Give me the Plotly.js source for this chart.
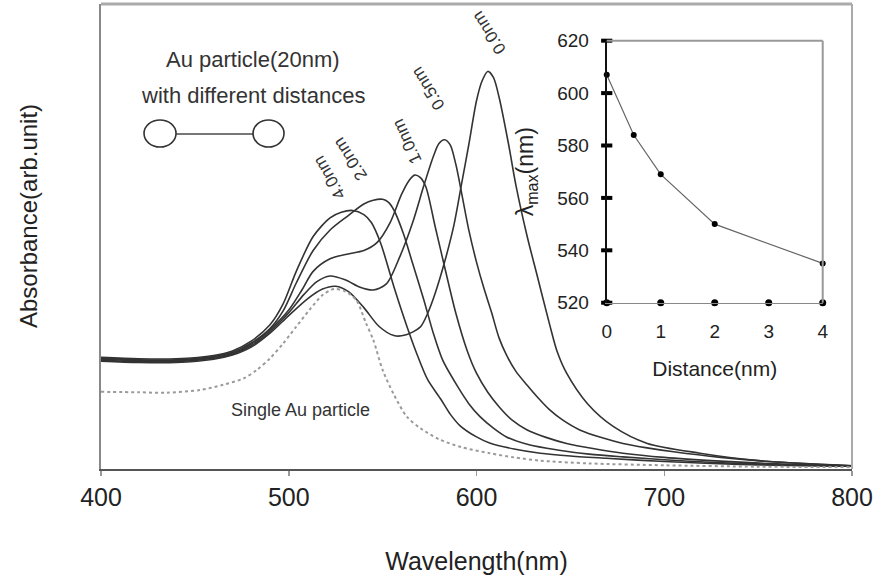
<!DOCTYPE html>
<html>
<head>
<meta charset="utf-8">
<script src="https://cdn.plot.ly/plotly-3.0.1.min.js"></script>
<style>
  html, body { margin: 0; padding: 0; background: #fff; }
  #chart { width: 877px; height: 577px; }
</style>
</head>
<body>
<div id="chart"></div>
<script>
// ---- Main spectra (wavelength in nm, absorbance in arb. units) ----
const wl00 = [400,420,440,460,470,480,490,500,510,518,525,532,540,548,556,562,570,574,578,583,588,592,596,600,603,606,609,612,617,621,627,632,639,643,648,659,673,691,719,750,800];
const ab00 = [0.232,0.229,0.229,0.236,0.245,0.262,0.292,0.330,0.366,0.387,0.393,0.381,0.347,0.307,0.287,0.288,0.305,0.335,0.378,0.445,0.525,0.612,0.700,0.792,0.835,0.855,0.842,0.800,0.700,0.610,0.500,0.421,0.310,0.252,0.206,0.141,0.091,0.055,0.034,0.018,0.007];

const wl05 = [400,420,440,460,470,480,490,500,508,515,522,530,538,545,552,559,566,572,577,580,583,586,589,592,596,600,604,608,612,616,621,627,633,639,646,655,667,678,690,705,730,760,800];
const ab05 = [0.234,0.231,0.231,0.238,0.247,0.265,0.296,0.336,0.375,0.403,0.415,0.407,0.391,0.385,0.398,0.455,0.530,0.610,0.672,0.700,0.708,0.697,0.655,0.595,0.512,0.445,0.388,0.337,0.282,0.245,0.210,0.180,0.152,0.127,0.105,0.084,0.067,0.055,0.046,0.037,0.025,0.015,0.007];

const wl10 = [400,420,440,460,470,480,490,500,507,513,522,531,540,547,554,560,564,567,570,573,578,583,589,595,600,606,612,619,627,637,648,662,678,700,730,760,800];
const ab10 = [0.236,0.233,0.233,0.240,0.249,0.268,0.300,0.342,0.385,0.425,0.452,0.462,0.470,0.487,0.530,0.590,0.620,0.632,0.627,0.607,0.521,0.435,0.335,0.255,0.206,0.165,0.134,0.105,0.084,0.068,0.055,0.044,0.034,0.025,0.017,0.011,0.006];

const wl20 = [400,420,440,460,470,480,490,497,504,513,522,531,540,545,550,553,556,561,566,572,577,582,590,596,602,609,616,628,643,660,678,700,740,800];
const ab20 = [0.238,0.235,0.235,0.242,0.251,0.271,0.302,0.340,0.400,0.470,0.514,0.543,0.570,0.578,0.580,0.574,0.557,0.507,0.442,0.363,0.292,0.234,0.177,0.140,0.112,0.088,0.069,0.052,0.041,0.032,0.026,0.020,0.012,0.006];

const wl40 = [400,420,440,460,470,480,490,497,504,513,522,528,534,540,544,549,556,563,568,574,581,586,591,600,607,620,634,650,669,700,740,800];
const ab40 = [0.240,0.237,0.237,0.244,0.254,0.275,0.310,0.355,0.425,0.500,0.540,0.552,0.556,0.547,0.530,0.485,0.392,0.306,0.250,0.192,0.150,0.118,0.094,0.069,0.056,0.043,0.034,0.028,0.023,0.016,0.010,0.006];

const wlSingle = [400,420,435,453,465,476,483,490,497,504,511,518,524,530,536,541,545,550,556,563,570,580,592,607,620,634,660,700,750,800];
const abSingle = [0.166,0.165,0.164,0.170,0.181,0.195,0.213,0.238,0.270,0.306,0.342,0.374,0.387,0.382,0.363,0.315,0.278,0.213,0.160,0.112,0.088,0.064,0.047,0.034,0.025,0.018,0.012,0.008,0.005,0.004];

// ---- Inset: peak wavelength vs. distance ----
const distance = [0, 0.5, 1, 2, 4];
const lambdaMax = [607, 584, 569, 550, 535];

// ---- Tick labels ----
const mainXTicks = [400, 500, 600, 700, 800];
const insetXTicks = [0, 1, 2, 3, 4];
const insetYTicks = [520, 540, 560, 580, 600, 620];

const FONT = 'Liberation Sans, Arial, Helvetica, sans-serif';
const solid = {color: '#333333', width: 1.6, shape: 'spline', smoothing: 0.8};

const spectra = [
  [wl00, ab00, '0.0nm'], [wl05, ab05, '0.5nm'], [wl10, ab10, '1.0nm'],
  [wl20, ab20, '2.0nm'], [wl40, ab40, '4.0nm']
];

const traces = spectra.map(([x, y, name]) => ({
  type: 'scatter', mode: 'lines', x: x, y: y, name: name,
  line: solid, xaxis: 'x', yaxis: 'y'
}));

traces.push({
  type: 'scatter', mode: 'lines', x: wlSingle, y: abSingle, name: 'Single Au particle',
  line: {color: '#9a9a9a', width: 2, dash: 'dot', shape: 'spline', smoothing: 0.8},
  xaxis: 'x', yaxis: 'y'
});

// inset tick dots, built from tick arrays
traces.push({
  type: 'scatter', mode: 'markers', x: insetXTicks, y: insetXTicks.map(() => insetYTicks[0]),
  marker: {color: '#000', size: 7}, xaxis: 'x2', yaxis: 'y2', cliponaxis: false, hoverinfo: 'skip'
});
traces.push({
  type: 'scatter', mode: 'markers', x: insetYTicks.map(() => insetXTicks[0]), y: insetYTicks,
  marker: {symbol: 'line-ew', size: 8, line: {color: '#000', width: 4}}, xaxis: 'x2', yaxis: 'y2', cliponaxis: false, hoverinfo: 'skip'
});
traces.push({
  type: 'scatter', mode: 'lines+markers', x: distance, y: lambdaMax, name: 'λmax',
  line: {color: '#666', width: 1.2}, marker: {color: '#000', size: 6},
  xaxis: 'x2', yaxis: 'y2', cliponaxis: false
});

const labelFont = {family: FONT, size: 17, color: '#333'};
const curveLabels = [
  {text: '0.0nm', x: 606.7, y: 0.937, textangle: -123},
  {text: '0.5nm', x: 574.2, y: 0.817, textangle: -122},
  {text: '1.0nm', x: 563.0, y: 0.703, textangle: -115},
  {text: '2.0nm', x: 532.9, y: 0.667, textangle: -123},
  {text: '4.0nm', x: 522.0, y: 0.626, textangle: -120}
].map(a => Object.assign({xref: 'x', yref: 'y', showarrow: false, font: labelFont,
  xanchor: 'center', yanchor: 'middle'}, a));

const layout = {
  width: 877, height: 577,
  margin: {l: 101, r: 25, t: 4, b: 108},
  paper_bgcolor: '#fff', plot_bgcolor: 'rgba(0,0,0,0)',
  showlegend: false,
  font: {family: FONT, color: '#222'},
  xaxis: {
    domain: [0, 1], range: [400, 800], tickvals: mainXTicks, ticktext: mainXTicks.map(String),
    ticks: 'outside', ticklen: 5, tickcolor: '#999', tickwidth: 1.5,
    showline: true, linecolor: '#555', linewidth: 2,
    showgrid: false, zeroline: false,
    tickfont: {family: FONT, size: 25, color: '#222'}, ticklabelstandoff: 0,
    title: {text: 'Wavelength(nm)', font: {family: FONT, size: 25, color: '#222'}, standoff: 42}
  },
  yaxis: {
    domain: [0, 1], range: [0, 1], showticklabels: false, ticks: '',
    showline: true, linecolor: '#888', linewidth: 2, showgrid: false, zeroline: false
  },
  xaxis2: {
    anchor: 'y2', domain: [0.6734, 0.961], range: [0, 4], tickvals: insetXTicks, ticktext: insetXTicks.map(String),
    ticks: '', showline: true, linecolor: '#888', linewidth: 1.5, showgrid: false, zeroline: false,
    tickfont: {family: FONT, size: 19, color: '#222'}, ticklabelstandoff: 11,
    title: {text: 'Distance(nm)', font: {family: FONT, size: 21, color: '#222'}, standoff: 20}
  },
  yaxis2: {
    anchor: 'x2', domain: [0.3576, 0.9211], range: [520, 620], tickvals: insetYTicks, ticktext: insetYTicks.map(String),
    ticks: '', showline: true, linecolor: '#111', linewidth: 2, showgrid: false, zeroline: false,
    tickfont: {family: FONT, size: 19, color: '#222'}, ticklabelstandoff: 12,
    title: {text: 'λ<sub>max</sub>(nm)', font: {family: FONT, size: 23, color: '#222'}, standoff: 17}
  },
  shapes: [
    // main frame top/right
    {type: 'line', xref: 'paper', yref: 'paper', x0: 0, x1: 1, y0: 1, y1: 1, line: {color: '#aaa', width: 3}},
    {type: 'line', xref: 'paper', yref: 'paper', x0: 1, x1: 1, y0: 0, y1: 1, line: {color: '#aaa', width: 2}},
    // inset frame top/right
    {type: 'line', xref: 'x2 domain', yref: 'y2 domain', x0: 0, x1: 1, y0: 1, y1: 1, line: {color: '#999', width: 2}},
    {type: 'line', xref: 'x2 domain', yref: 'y2 domain', x0: 1, x1: 1, y0: 0, y1: 1, line: {color: '#999', width: 2}},
    // schematic: two particles joined by a bar
    {type: 'line', xref: 'paper', yref: 'paper', x0: 0.0999, x1: 0.2024, y0: 0.7204, y1: 0.7204, line: {color: '#777', width: 2}},
    {type: 'circle', xref: 'paper', yref: 'paper', x0: 0.0573, x1: 0.0999, y0: 0.6925, y1: 0.7505, line: {color: '#333', width: 1.6}, fillcolor: 'rgba(0,0,0,0)'},
    {type: 'circle', xref: 'paper', yref: 'paper', x0: 0.2024, x1: 0.2437, y0: 0.6925, y1: 0.7505, line: {color: '#333', width: 1.6}, fillcolor: 'rgba(0,0,0,0)'}
  ],
  annotations: [
    {text: 'Absorbance(arb.unit)', xref: 'paper', yref: 'paper', x: -0.0972, y: 0.544, textangle: -90,
     showarrow: false, xanchor: 'center', yanchor: 'middle', font: {family: FONT, size: 24, color: '#222'}},
    {text: 'Au particle(20nm)', xref: 'paper', yref: 'paper', x: 0.2028, y: 0.8796, showarrow: false,
     xanchor: 'center', yanchor: 'middle', font: {family: FONT, size: 22, color: '#333'}},
    {text: 'with different distances', xref: 'paper', yref: 'paper', x: 0.2028, y: 0.8043, showarrow: false,
     xanchor: 'center', yanchor: 'middle', font: {family: FONT, size: 22, color: '#333'}},
    {text: 'Single Au particle', xref: 'paper', yref: 'paper', x: 0.2659, y: 0.1262, showarrow: false,
     xanchor: 'center', yanchor: 'middle', font: {family: FONT, size: 18, color: '#333'}}
  ].concat(curveLabels)
};

Plotly.newPlot('chart', traces, layout, {displayModeBar: false, staticPlot: true});
</script>
</body>
</html>
